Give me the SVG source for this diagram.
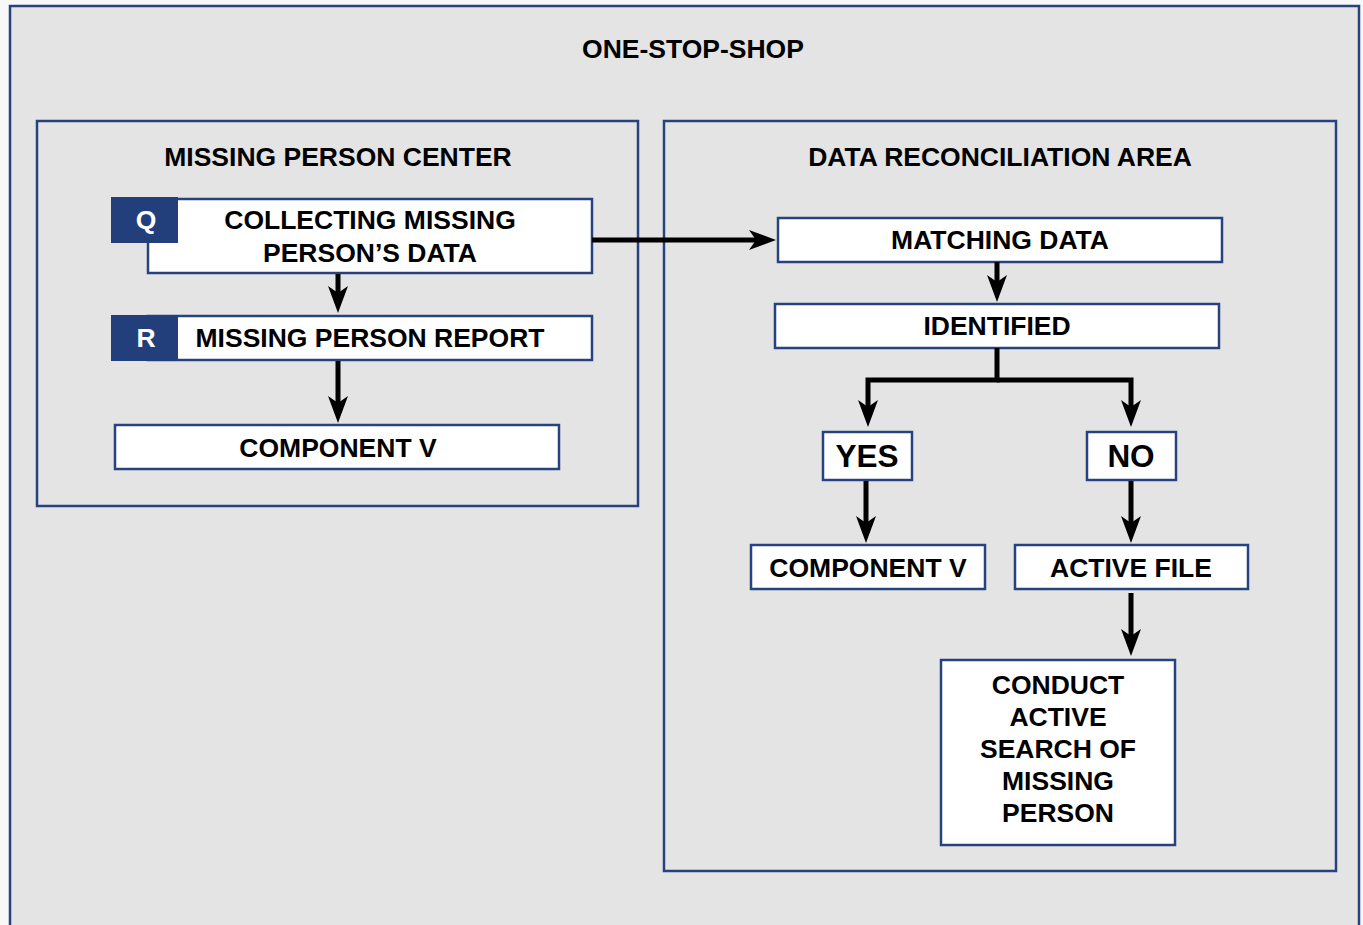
<svg xmlns="http://www.w3.org/2000/svg" width="1363" height="925" viewBox="0 0 1363 925">
<defs>
<style>
.frame{fill:#e4e4e4;stroke:#26437f;stroke-width:2.5}
.box{fill:#ffffff;stroke:#26437f;stroke-width:2.5}
.tag{fill:#233f7b}
.t{font-family:"Liberation Sans",Arial,sans-serif;font-weight:bold;font-size:26.5px;fill:#000;text-anchor:middle}
.big{font-size:31.5px}
.w{fill:#ffffff}
.c{fill:none;stroke:#000;stroke-width:5}
</style>
<marker id="ah" viewBox="0 0 27 20" refX="7" refY="10" markerWidth="27" markerHeight="20" markerUnits="userSpaceOnUse" orient="auto">
<path d="M0,0 L27,10 L0,20 L7,10 Z" fill="#000"/>
</marker>
</defs>
<rect x="0" y="0" width="1363" height="925" fill="#f8f8f8"/>
<g id="one-stop-shop">
<rect class="frame" x="10" y="6" width="1349" height="940"/>
<text class="t" x="693" y="58">ONE-STOP-SHOP</text>
</g>
<g id="missing-person-center">
<rect class="frame" x="37" y="121" width="601" height="385"/>
<text class="t" x="338" y="166">MISSING PERSON CENTER</text>
</g>
<g id="data-reconciliation-area">
<rect class="frame" x="664" y="121" width="672" height="750"/>
<text class="t" x="1000" y="166">DATA RECONCILIATION AREA</text>
</g>
<g id="collecting">
<rect class="box" x="148" y="199" width="444" height="74"/>
<rect class="tag" x="111" y="197" width="67" height="46"/>
<text class="t w" x="146" y="229">Q</text>
<text class="t" x="370" y="229">COLLECTING MISSING</text>
<text class="t" x="370" y="262">PERSON’S DATA</text>
</g>
<g id="report">
<rect class="box" x="148" y="316" width="444" height="44"/>
<rect class="tag" x="111" y="315" width="67" height="46"/>
<text class="t w" x="146" y="347">R</text>
<text class="t" x="370" y="347">MISSING PERSON REPORT</text>
</g>
<g id="component-v-left">
<rect class="box" x="115" y="425" width="444" height="44"/>
<text class="t" x="338" y="457">COMPONENT V</text>
</g>
<g id="matching">
<rect class="box" x="778" y="218" width="444" height="44"/>
<text class="t" x="1000" y="249">MATCHING DATA</text>
</g>
<g id="identified">
<rect class="box" x="775" y="304" width="444" height="44"/>
<text class="t" x="997" y="335">IDENTIFIED</text>
</g>
<g id="yes">
<rect class="box" x="823" y="432" width="89" height="48"/>
<text class="t big" x="867" y="467">YES</text>
</g>
<g id="no">
<rect class="box" x="1087" y="432" width="89" height="48"/>
<text class="t big" x="1131" y="467">NO</text>
</g>
<g id="component-v-right">
<rect class="box" x="751" y="545" width="234" height="44"/>
<text class="t" x="868" y="577">COMPONENT V</text>
</g>
<g id="active-file">
<rect class="box" x="1015" y="545" width="233" height="44"/>
<text class="t" x="1131" y="577">ACTIVE FILE</text>
</g>
<g id="conduct">
<rect class="box" x="941" y="660" width="234" height="185"/>
<text class="t" x="1058" y="694">CONDUCT</text>
<text class="t" x="1058" y="726">ACTIVE</text>
<text class="t" x="1058" y="758">SEARCH OF</text>
<text class="t" x="1058" y="790">MISSING</text>
<text class="t" x="1058" y="822">PERSON</text>
</g>
<g id="connectors">
<path class="c" d="M592,240 H756" marker-end="url(#ah)"/>
<path class="c" d="M338,274 V293" marker-end="url(#ah)"/>
<path class="c" d="M338,361 V403" marker-end="url(#ah)"/>
<path class="c" d="M997,262 V282" marker-end="url(#ah)"/>
<path class="c" d="M997,348 V380 H868 V407" marker-end="url(#ah)"/>
<path class="c" d="M997,380 H1131 V407" marker-end="url(#ah)"/>
<path class="c" d="M866,481 V523" marker-end="url(#ah)"/>
<path class="c" d="M1131,481 V523" marker-end="url(#ah)"/>
<path class="c" d="M1131,593 V636" marker-end="url(#ah)"/>
</g>
</svg>
